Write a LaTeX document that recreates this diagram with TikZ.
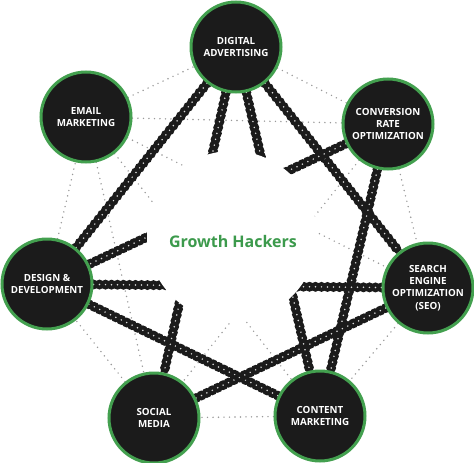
\documentclass[tikz,border=0pt]{standalone}
\usepackage{fontspec}
\newfontfamily\hackfont{Open Sans}
\usetikzlibrary{backgrounds}
\definecolor{cring}{HTML}{43A04F}
\definecolor{cdisc}{HTML}{1B1B1B}
\definecolor{cdot}{HTML}{999999}
\definecolor{ctitle}{HTML}{3C9A4C}

\begin{document}
\begin{tikzpicture}[
  x=1pt, y=-1pt,
  font=\hackfont\bfseries\fontsize{9.8}{12.3}\selectfont,
  topic/.style={circle, draw=cring, fill=cdisc, line width=3pt,
                minimum size=90pt, inner sep=0pt, align=center,
                text=white},
  dots/.style={draw=cdot, line width=1.6pt, line cap=round,
               dash pattern=on 0pt off 5.5pt},
  chain/.style={draw=cdisc, line width=7pt,
    preaction={draw=cdisc, line width=10pt, line cap=round,
               dash pattern=on 0pt off 6pt},
    postaction={draw=white!70!gray, line width=1.7pt, line cap=round,
                dash pattern=on 0pt off 6pt}},
]
\useasboundingbox (0,0) rectangle (474,463);

\node[topic] (dig)   at (236,47)  {DIGITAL\\ADVERTISING};
\node[topic] (email) at (86,117)  {EMAIL\\MARKETING};
\node[topic] (cro)   at (388,124) {CONVERSION\\RATE\\OPTIMIZATION};
\node[topic] (des)   at (47,284)  {DESIGN \&\\DEVELOPMENT};
\node[topic] (seo)   at (428,288) {SEARCH\\ENGINE\\OPTIMIZATION\\(SEO)};
\node[topic] (soc)   at (154,418) {SOCIAL\\MEDIA};
\node[topic] (con)   at (320,416) {CONTENT\\MARKETING};

\node[font=\hackfont\bfseries\fontsize{16}{18}\selectfont, text=ctitle]
  (title) at (233,241) {Growth Hackers};

\begin{scope}[on background layer]
  \fill[white] (0,0) rectangle (474,463);
  % dotted web
  \draw[dots] (email)--(dig);  \draw[dots] (dig)--(cro);
  \draw[dots] (cro)--(seo);    \draw[dots] (seo)--(con);
  \draw[dots] (con)--(soc);    \draw[dots] (soc)--(des);
  \draw[dots] (des)--(email);
  \draw[dots] (email)--(cro);  \draw[dots] (email)--(soc);
  \draw[dots] (email)--(seo);  \draw[dots] (email)--(con);
  \draw[dots] (cro)--(soc);
  % chains
  \draw[chain] (dig)--(des);   \draw[chain] (dig)--(seo);
  \draw[chain] (cro)--(con);   \draw[chain] (des)--(con);
  \draw[chain] (soc)--(seo);
  \draw[chain] (dig)--(soc);   \draw[chain] (dig)--(con);
  \draw[chain] (cro)--(des);   \draw[chain] (des)--(seo);
  % clear centre
  \fill[white] (232,236) circle (85pt);
\end{scope}
\end{tikzpicture}
\end{document}
